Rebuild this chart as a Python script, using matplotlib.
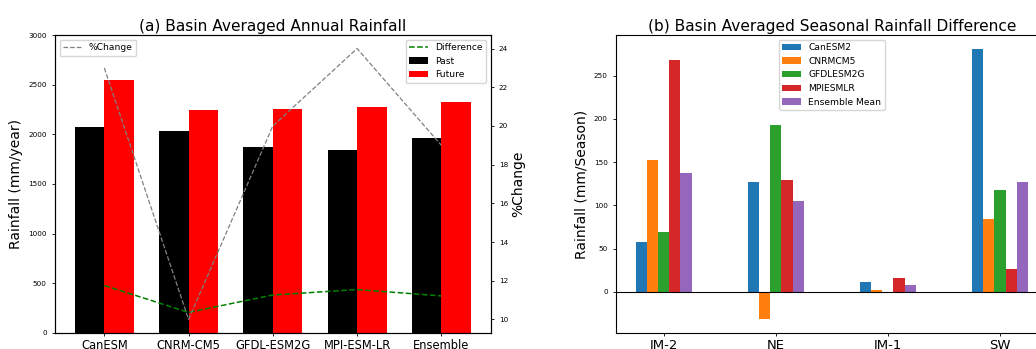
import numpy as np
import matplotlib.pyplot as plt

# (a) annual values
models = ['CanESM', 'CNRM-CM5', 'GFDL-ESM2G', 'MPI-ESM-LR', 'Ensemble']
past = [2078, 2038, 1874, 1840, 1961]
future = [2551, 2246, 2253, 2276, 2330]
difference = [478, 207, 382, 437, 373]
pct_change = [23.0, 10.0, 20.0, 24.0, 19.0]

# (b) seasonal differences
seasons = ['IM-2', 'NE', 'IM-1', 'SW']
canesm2 = [57.6, 127.3, 10.9, 281.5]
cnrmcm5 = [152.6, -31.9, 2.3, 83.7]
gfdlesm2g = [69.3, 192.8, 0.0, 117.6]
mpiesmlr = [268.7, 129.3, 16.4, 26.9]
ens_mean = [137.5, 104.8, 7.4, 127.3]

fig = plt.figure(figsize=(10.36, 3.49), dpi=100)

# ---- (a) ----
ax = fig.add_axes([0.0531, 0.046, 0.4205, 0.8537])
x = np.arange(len(models))
w = 0.35
ax.bar(x - w/2, past, w, color='black', label='Past')
ax.bar(x + w/2, future, w, color='red', label='Future')
ax.plot(x, difference, 'g--', lw=1.1, label='Difference')
ax.set_ylim(0, 3000)
ax.set_xticks(x)
ax.set_xticklabels(models, fontsize=8.3)
ax.tick_params(axis='y', labelsize=5.2, length=2.5, width=0.6)
ax.tick_params(axis='x', length=2.5, width=0.6, pad=1.5)
ax.set_ylabel('Rainfall (mm/year)', fontsize=10)
ax.set_title('(a) Basin Averaged Annual Rainfall', fontsize=11.1, pad=3)
ax.legend(loc='upper right', fontsize=6.6)

ax2 = ax.twinx()
ax2.plot(x, pct_change, '--', color='gray', lw=0.9, label='%Change')
ax2.set_ylabel('%Change', fontsize=10, labelpad=2)
ax2.tick_params(axis='y', labelsize=5.2, length=2.5, width=0.6)
ax2.legend(loc='upper left', fontsize=6.6)

# ---- (b) ----
bx = fig.add_axes([0.5946, 0.046, 0.4166, 0.8537])
xs = np.arange(len(seasons))
bw = 0.1
series = [canesm2, cnrmcm5, gfdlesm2g, mpiesmlr, ens_mean]
names = ['CanESM2', 'CNRMCM5', 'GFDLESM2G', 'MPIESMLR', 'Ensemble Mean']
for i, (vals, name) in enumerate(zip(series, names)):
    bx.bar(xs + (i - 2) * bw, vals, bw, label=name)
bx.axhline(0, color='k', lw=0.8)
bx.set_xticks(xs)
bx.set_xticklabels(seasons, fontsize=9.5)
bx.tick_params(axis='y', labelsize=5.2, length=2.5, width=0.6)
bx.tick_params(axis='x', length=2.5, width=0.6, pad=1.5)
bx.set_ylabel('Rainfall (mm/Season)', fontsize=10)
bx.set_title('(b) Basin Averaged Seasonal Rainfall Difference', fontsize=11.1, pad=3)
bx.legend(loc='upper center', fontsize=6.6)

fig.savefig('out.png', dpi=100)
